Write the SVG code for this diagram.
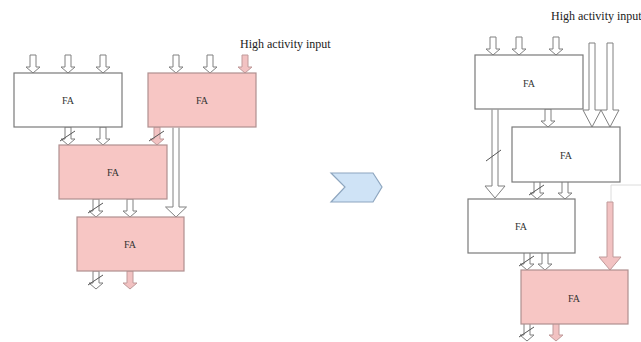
<svg xmlns="http://www.w3.org/2000/svg" xmlns:xlink="http://www.w3.org/1999/xlink" width="641" height="342" viewBox="0 0 641 342">
<style>
.box{stroke:#7a7a7a;stroke-width:1.2}
.w{fill:#ffffff}
.p{fill:#f7c6c4;stroke:#b09090}
.lbl{font-family:"Liberation Serif","Times New Roman",serif;font-size:10px;fill:#333;text-anchor:middle}
.hi{font-family:"Liberation Serif","Times New Roman",serif;font-size:12px;fill:#222}
.aw{fill:#ffffff;stroke:#808080;stroke-width:1}
.ap{fill:#f2c2c2;stroke:#c09a9a;stroke-width:1}
.sl{stroke:#555;stroke-width:1;fill:none}
</style>
<defs>
<path id="sa" d="M-3,-18 H3 V-6 H7 L0,0 L-7,-6 H-3 Z"/>
</defs>
<rect width="641" height="342" fill="#ffffff"/>
<text class="hi" x="240" y="48">High activity input</text>
<text class="hi" x="551" y="20" font-size="12.5">High activity input</text>

<g id="connectors">
<use href="#sa" class="aw" x="33" y="73"/>
<use href="#sa" class="aw" x="68" y="73"/>
<use href="#sa" class="aw" x="103" y="73"/>
<use href="#sa" class="aw" x="176" y="73"/>
<use href="#sa" class="aw" x="210" y="73"/>
<use href="#sa" class="ap" x="245" y="73"/>
<use href="#sa" class="aw" x="68" y="145"/>
<use href="#sa" class="aw" x="103" y="145"/>
<use href="#sa" class="ap" x="157" y="145"/>
<line class="sl" x1="60" y1="141" x2="75" y2="131"/>
<line class="sl" x1="149" y1="141" x2="164" y2="131"/>
<path class="aw" d="M173,127.6 V207 H165.5 L176,217 L186.5,207 H179 V127.6"/>
<use href="#sa" class="aw" x="96" y="217"/>
<use href="#sa" class="aw" x="130" y="217"/>
<line class="sl" x1="88" y1="213" x2="103" y2="203"/>
<use href="#sa" class="aw" x="96" y="289"/>
<use href="#sa" class="ap" x="130" y="289"/>
<line class="sl" x1="88" y1="285" x2="103" y2="275"/>

<use href="#sa" class="aw" x="493" y="55"/>
<use href="#sa" class="aw" x="519" y="55"/>
<use href="#sa" class="aw" x="556" y="55"/>
<path class="aw" d="M589,43 H595 V110 H601 L592,127 L583,110 H589 Z"/>
<path class="aw" d="M607,43 H613 V110 H619 L610,127 L601,110 H607 Z"/>
<use href="#sa" class="aw" x="548" y="127"/>
<path class="aw" d="M492,109.6 V186 H485 L495,198 L505,186 H498 V109.6"/>
<line class="sl" x1="486" y1="161" x2="501" y2="150"/>
<use href="#sa" class="aw" x="537" y="199"/>
<use href="#sa" class="aw" x="565" y="199"/>
<line class="sl" x1="529" y1="195" x2="544" y2="185"/>
<polyline points="641,185 611,185 611,202" fill="none" stroke="#dcdcdc" stroke-width="1"/>
<path class="ap" d="M607,202 H613 V257 H621 L610,270 L599,257 H607 Z"/>
<use href="#sa" class="aw" x="527" y="270"/>
<use href="#sa" class="aw" x="545" y="270"/>
<line class="sl" x1="519" y1="266" x2="534" y2="256"/>
<use href="#sa" class="aw" x="527" y="341"/>
<use href="#sa" class="ap" x="556" y="341"/>
<line class="sl" x1="519" y1="337" x2="534" y2="327"/>
</g>

<g id="fa1"><rect class="box w" x="14" y="73" width="108" height="54"/><text class="lbl" x="68" y="104">FA</text></g>
<g id="fa2"><rect class="box p" x="148" y="73" width="108" height="54"/><text class="lbl" x="202" y="104">FA</text></g>
<g id="fa3"><rect class="box p" x="59" y="145" width="108" height="54"/><text class="lbl" x="113" y="176">FA</text></g>
<g id="fa4"><rect class="box p" x="77" y="217" width="107" height="54"/><text class="lbl" x="130" y="248">FA</text></g>

<g id="chevron"><polygon points="331,173 373,173 382,187 373,202 331,202 345,187" fill="#cfe3f6" stroke="#8ea6bf" stroke-width="1.2"/></g>

<g id="fa5"><rect class="box w" x="475" y="55" width="108" height="54"/><text class="lbl" x="529" y="87">FA</text></g>
<g id="fa6"><rect class="box w" x="512" y="127" width="108" height="55"/><text class="lbl" x="566" y="159">FA</text></g>
<g id="fa7"><rect class="box w" x="468" y="199" width="107" height="54"/><text class="lbl" x="521" y="230">FA</text></g>
<g id="fa8"><rect class="box p" x="521" y="270" width="107" height="54"/><text class="lbl" x="574" y="302">FA</text></g>
</svg>
